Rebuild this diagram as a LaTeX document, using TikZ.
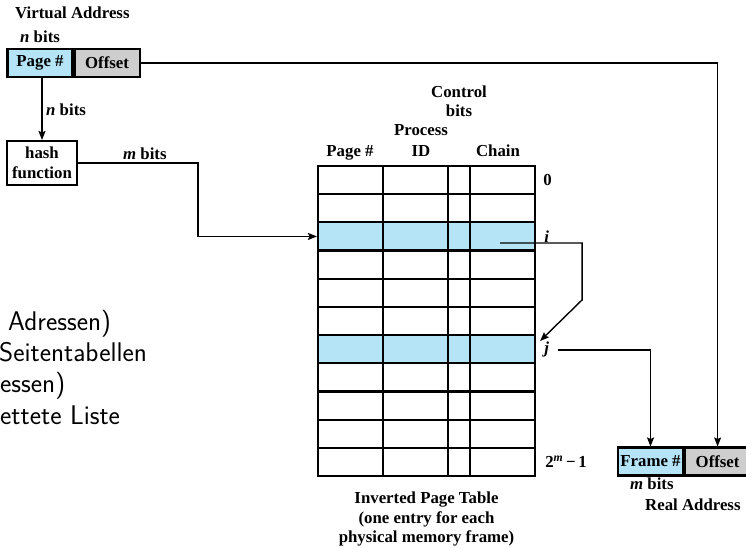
\documentclass[tikz,border=0pt]{standalone}
\usepackage{fontspec}
\setmainfont{Liberation Serif}
\usepackage{xcolor}
\usetikzlibrary{arrows.meta,positioning,calc}
\definecolor{pageblue}{RGB}{180,228,246}
\definecolor{offgray}{RGB}{206,206,206}

\begin{document}
\begin{tikzpicture}[
    x=1pt, y=-1pt,
    >={Stealth[length=9pt,width=7pt,inset=1.5pt]},
    font=\fontsize{16.8}{19.5}\selectfont\bfseries,
    field/.style={draw, line width=2.1pt, inner sep=0pt,
        minimum width=65pt, minimum height=28pt},
    tabrow/.style={draw, line width=2.1pt, inner sep=0pt,
        minimum width=217pt, minimum height=28.18pt},
    lbl/.style={anchor=base west, inner sep=0pt},
    hdr/.style={anchor=base, inner sep=0pt},
    conn/.style={->, line width=1.4pt},
    slide/.style={anchor=base west, inner sep=0pt,
        font=\fontsize{27}{31}\selectfont\sffamily\mdseries}
]
\useasboundingbox (0,0) rectangle (746,547);

\node[slide] (s1) at (8,330) {Adressen)};
\node[slide] (s2) at (-1,361) {Seitentabellen};
\node[slide] (s3) at (0,392) {essen)};
\node[slide] (s4) at (0,424) {ettete Liste};

\node[lbl] (vname) at (15,18) {Virtual Address};
\node[lbl] (vbits) at (20,42) {\textit{n} bits};
\node[field, fill=pageblue] (vpage) at (40,63) {Page \#};
\node[field, fill=offgray, right=0pt of vpage] (voff) {Offset};

\node[field, minimum width=70pt, minimum height=44pt, align=center] (hash) at (42,163) {hash\\function};
\node[lbl] (hbits) at (46,115) {\textit{n} bits};
\draw[conn] (vpage.south -| hash.north) -- (hash.north);

\foreach \i/\c in {0/white,1/white,2/pageblue,3/white,4/white,5/white,
                   6/pageblue,7/white,8/white,9/white,10/white}
    \node[tabrow, fill=\c] (row\i) at (426.5,{166+(\i+0.5)*28.18}) {};
\foreach \cx in {383,448,470}
    \draw[line width=2.1pt] (\cx,166) -- (\cx,476);

\node[hdr] (hpage) at (350,156) {Page \#};
\node[hdr] (hproc) at (421,135) {Process};
\node[hdr] (hid) at (421,156) {ID};
\node[hdr] (hctl) at (459,97) {Control};
\node[hdr] (hbit) at (459,116) {bits};
\node[hdr] (hchain) at (498,156) {Chain};

\node[right=7pt of row0, inner sep=0pt] (l0) {0};
\node[right=8pt of row2, inner sep=0pt] (li) {\textit{i}};
\node[right=8pt of row6, inner sep=0pt] (lj) {\textit{j}};
\node[right=9pt of row10, inner sep=0pt] (lm) {2\textsuperscript{\textit{m}}\,−\,1};

\node[lbl] (mbits) at (123,159) {\textit{m} bits};
\draw[conn] (hash.east) -- ++(120,0) |- (row2.west);

\draw[conn] ($(row2.east)+(-36,6.5)$) -- ++(82,0) -- ++(0,57)
    -- ($(row6.north east)+(4,7)$);

\node[align=center, inner sep=0pt, below=15pt of row10] (caption)
    {Inverted Page Table\\(one entry for each\\physical memory frame)};

\node[field, fill=pageblue] (rframe) at (650.5,461.5) {Frame \#};
\node[field, fill=offgray, right=0pt of rframe] (roff) {Offset};
\node[lbl] (rbits) at (630,489) {\textit{m} bits};
\node[lbl] (rname) at (645,510) {Real Address};

\draw[conn] ($(row6.east)+(22,1)$) -| (rframe.north);
\draw[conn] (voff.east) -| (roff.north);
\end{tikzpicture}
\end{document}
